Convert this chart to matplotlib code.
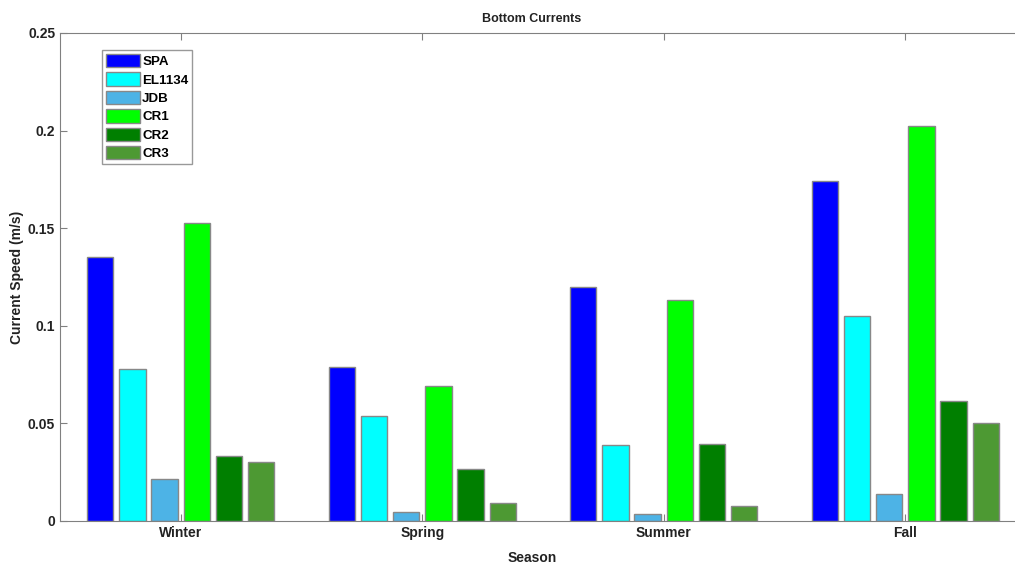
import matplotlib.pyplot as plt
import numpy as np

plt.rcParams['font.family'] = ['Liberation Sans', 'DejaVu Sans']
plt.rcParams['font.weight'] = 'bold'

seasons = ['Winter', 'Spring', 'Summer', 'Fall']
sites = ['SPA', 'EL1134', 'JDB', 'CR1', 'CR2', 'CR3']
colors = ['#0000ff', '#00ffff', '#4db3e6', '#00ff00', '#007f00', '#4d9933']

spa = [0.135, 0.0787, 0.120, 0.174]
el1134 = [0.078, 0.054, 0.039, 0.105]
jdb = [0.0216, 0.0046, 0.0036, 0.0139]
cr1 = [0.1525, 0.0694, 0.113, 0.2025]
cr2 = [0.0334, 0.0267, 0.0396, 0.0617]
cr3 = [0.0304, 0.0093, 0.0077, 0.0504]
values = [spa, el1134, jdb, cr1, cr2, cr3]

fig = plt.figure(figsize=(10.15, 5.69), dpi=100)
# axes run a little past the right edge of the picture, like the source
ax = fig.add_axes([60 / 1015, 48 / 569, 966 / 1015, 488 / 569])

x = np.arange(1, len(seasons) + 1)
pitch = 0.8 / len(sites)
for i, (name, vals) in enumerate(zip(sites, values)):
    offset = (i - (len(sites) - 1) / 2) * pitch
    ax.bar(x + offset, vals, width=pitch * 0.82, color=colors[i],
           edgecolor='#888888', linewidth=1.0, label=name)

ax.set_xlim(0.5, 4.5)
ax.set_ylim(0, 0.25)
ax.set_xticks(x)
ax.set_xticklabels(seasons)
ax.set_yticks([0, 0.05, 0.1, 0.15, 0.2, 0.25])
ax.set_yticklabels(['0', '0.05', '0.1', '0.15', '0.2', '0.25'])
ax.tick_params(direction='in', length=5, colors='#808080', labelcolor='#222222',
               labelsize=10, top=True, right=False)
for s in ax.spines.values():
    s.set_color('#808080')
ax.spines['right'].set_visible(False)

# title and xlabel sit a bit left of the axes middle (source was cropped)
mid = (532 - 60) / 966
ax.set_title('Bottom Currents', fontsize=9, fontweight='bold', color='#222222', pad=8, x=mid)
ax.set_xlabel('Season', fontsize=10, fontweight='bold', color='#222222', labelpad=8, x=mid)
ax.set_ylabel('Current Speed (m/s)', fontsize=10, fontweight='bold', color='#222222', labelpad=3)

leg = ax.legend(loc='upper left', bbox_to_anchor=(0.043, 0.965), fontsize=9.6,
                frameon=True, fancybox=False, edgecolor='#808080',
                handlelength=2.6, handleheight=1.15, handletextpad=0.15,
                labelspacing=0.32, borderpad=0.3, borderaxespad=0)
leg.get_frame().set_linewidth(1.0)

fig.savefig('out.png', dpi=100)
